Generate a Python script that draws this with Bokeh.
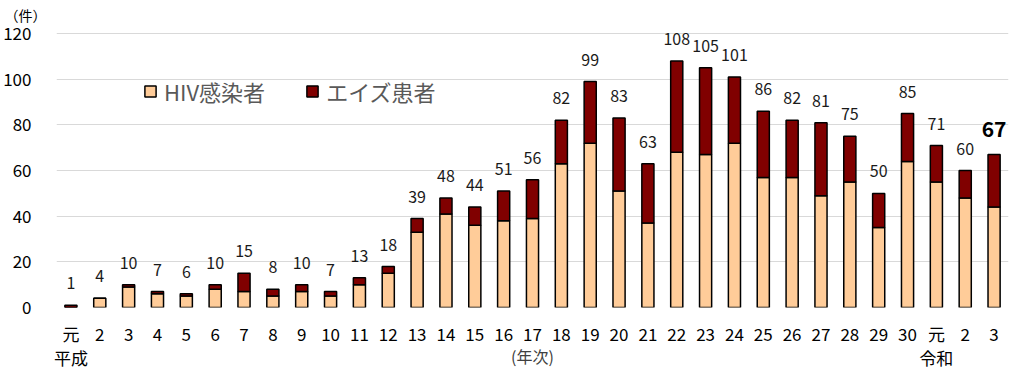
from bokeh.plotting import figure
from bokeh.models import ColumnDataSource, FixedTicker, Legend, LegendItem, Range1d, Title
from bokeh.core.properties import value
from bokeh.embed import file_html
from bokeh.resources import INLINE

years = ["元", "2", "3", "4", "5", "6", "7", "8", "9", "10", "11", "12", "13", "14", "15",
         "16", "17", "18", "19", "20", "21", "22", "23", "24", "25", "26", "27", "28", "29",
         "30", "元", "2", "3"]
era_labels = {0: "平成", 30: "令和"}
totals = [1, 4, 10, 7, 6, 10, 15, 8, 10, 7, 13, 18, 39, 48, 44, 51, 56, 82, 99, 83, 63,
          108, 105, 101, 86, 82, 81, 75, 50, 85, 71, 60, 67]
hiv = [0, 4, 9, 6, 5, 8, 7, 5, 7, 5, 10, 15, 33, 41, 36, 38, 39, 63, 72, 51, 37,
       68, 67, 72, 57, 57, 49, 55, 35, 64, 55, 48, 44]
aids = [t - h for t, h in zip(totals, hiv)]

JP = "Noto Sans CJK JP"

xs = list(range(len(years)))
src = ColumnDataSource(dict(x=xs, hiv=hiv, aids=aids))

p = figure(width=1016, height=374, x_range=Range1d(-0.5, len(years) - 0.5),
           y_range=Range1d(0, 124), output_backend="svg", toolbar_location=None,
           min_border_left=52, min_border_right=8, min_border_top=24, min_border_bottom=67)
p.outline_line_color = None
p.background_fill_color = "white"

rs = p.vbar_stack(["hiv", "aids"], x="x", width=0.42, color=["#FFCC99", "#800000"],
                  line_color="black", line_width=1.5, source=src)

# total labels
lab_y = [t + 9.6 for t in totals[:-1]]
p.text(x=xs[:-1], y=lab_y, text=[str(t) for t in totals[:-1]], text_align="center",
       text_baseline="middle", text_font=value(JP), text_font_size="16px", text_color="#1a1a1a")
p.text(x=[xs[-1]], y=[totals[-1] + 11.3], text=[str(totals[-1])], text_align="center",
       text_baseline="middle", text_font=value(JP), text_font_size="21px",
       text_font_style="bold", text_color="black")

legend = Legend(items=[LegendItem(label="HIV感染者", renderers=[rs[0]]),
                       LegendItem(label="エイズ患者", renderers=[rs[1]])],
                orientation="horizontal", location=(87, 200), padding=0, margin=0,
                spacing=40, label_standoff=7, glyph_width=14, glyph_height=14,
                border_line_color=None, background_fill_alpha=0,
                label_text_font=JP, label_text_font_size="22px", label_text_color="#595959")
p.add_layout(legend)

p.add_layout(Title(text="（件）", align="left", offset=-52, standoff=0,
                   text_font=JP, text_font_size="14px", text_font_style="normal",
                   text_color="black"), "above")

p.yaxis.ticker = FixedTicker(ticks=[0, 20, 40, 60, 80, 100, 120])
p.yaxis.axis_line_color = None
p.yaxis.major_tick_line_color = None
p.yaxis.minor_tick_line_color = None
p.yaxis.major_label_standoff = 19
p.yaxis.major_label_text_font = JP
p.yaxis.major_label_text_font_size = "17px"
p.yaxis.major_label_text_color = "black"

overrides = {}
for i, y in enumerate(years):
    overrides[i] = y + ("\n" + era_labels[i] if i in era_labels else "")
p.xaxis.ticker = FixedTicker(ticks=xs)
p.xaxis.major_label_overrides = overrides
p.xaxis.axis_line_color = None
p.xaxis.major_tick_line_color = None
p.xaxis.minor_tick_line_color = None
p.xaxis.major_label_standoff = 7
p.xaxis.major_label_text_font = JP
p.xaxis.major_label_text_font_size = "17px"
p.xaxis.major_label_text_line_height = 0.98
p.xaxis.major_label_text_color = "black"
p.xaxis.axis_label = "(年次)"
p.xaxis.axis_label_standoff = -29
p.xaxis.axis_label_text_font = JP
p.xaxis.axis_label_text_font_size = "16px"
p.xaxis.axis_label_text_font_style = "normal"
p.xaxis.axis_label_text_color = "#404040"

p.xgrid.grid_line_color = None
p.ygrid.grid_line_color = "#D9D9D9"
p.ygrid.grid_line_width = 1

open("out.html", "w").write(file_html(p, INLINE))
